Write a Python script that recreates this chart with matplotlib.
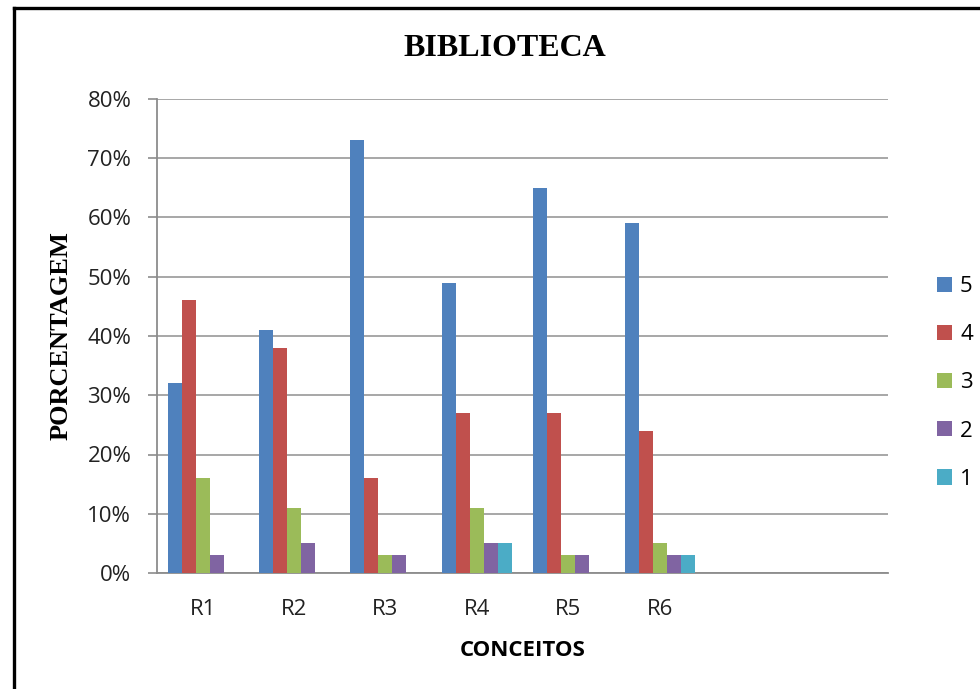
import matplotlib
matplotlib.use('Agg')
from matplotlib import pyplot as plt
from matplotlib.lines import Line2D
import numpy as np

# data (percentages)
categories = ['R1', 'R2', 'R3', 'R4', 'R5', 'R6', '', '']
series_names = ['5', '4', '3', '2', '1']
s5 = [32, 41, 73, 49, 65, 59]
s4 = [46, 38, 16, 27, 27, 24]
s3 = [16, 11, 3, 11, 3, 5]
s2 = [3, 5, 3, 5, 3, 3]
s1 = [0, 0, 0, 5, 0, 3]
colors = ['#4F81BD', '#C0504D', '#9BBB59', '#8064A2', '#4BACC6']

sans = ['Open Sans', 'DejaVu Sans']
serif = ['Liberation Serif', 'DejaVu Serif']

fig = plt.figure(figsize=(9.8, 6.89), dpi=100)
ax = fig.add_axes([157 / 980, 1 - 573 / 689, (888 - 157) / 980, (573 - 99) / 689])

x = np.arange(len(s5))
w = 0.153
for i, (vals, c, name) in enumerate(zip([s5, s4, s3, s2, s1], colors, series_names)):
    ax.bar(x + (i - 2) * w, vals, width=w, color=c, label=name, zorder=3, linewidth=0)

ax.set_xlim(-0.5, len(categories) - 0.5)
ax.set_ylim(0, 80)
ax.set_yticks(range(0, 81, 10))
ax.set_yticklabels([f'{v}%' for v in range(0, 81, 10)], family=sans, fontsize=16, color='#222222')
ax.set_xticks(x)
ax.set_xticklabels(categories[:len(s5)], family=sans, fontsize=16, color='#222222')
ax.tick_params(axis='x', length=0, pad=19)
ax.tick_params(axis='y', length=6.5, width=1.2, color='#8c8c8c', pad=12)

ax.yaxis.grid(True, color='#a0a0a0', linewidth=1.3, zorder=0)
ax.set_axisbelow(True)
for side in ['top', 'right']:
    ax.spines[side].set_visible(False)
for side in ['left', 'bottom']:
    ax.spines[side].set_color('#8c8c8c')
    ax.spines[side].set_linewidth(1.3)

ax.set_xlabel('CONCEITOS', family=sans, fontsize=16, fontweight='bold', labelpad=14)
ax.set_ylabel('PORCENTAGEM', family=serif, fontsize=19, fontweight='bold')
ax.yaxis.set_label_coords(-0.115, 0.5)

fig.text(505 / 980, 1 - 48 / 689, 'BIBLIOTECA', family=serif, fontsize=23,
         fontweight='bold', ha='center', va='center')

fig.legend(loc='center left', bbox_to_anchor=(0.945, 1 - 383 / 689), frameon=False,
           prop={'family': sans, 'size': 16}, handlelength=0.68, handleheight=0.68,
           handletextpad=0.35, labelspacing=1.22, borderpad=0)

# black frame on the top and left edges
fig.add_artist(Line2D([14 / 980, 14 / 980], [0, 1 - 8 / 689], transform=fig.transFigure,
                      color='black', linewidth=2.4))
fig.add_artist(Line2D([14 / 980, 1], [1 - 8 / 689, 1 - 8 / 689], transform=fig.transFigure,
                      color='black', linewidth=2.4))

fig.savefig('out.png', dpi=100)
